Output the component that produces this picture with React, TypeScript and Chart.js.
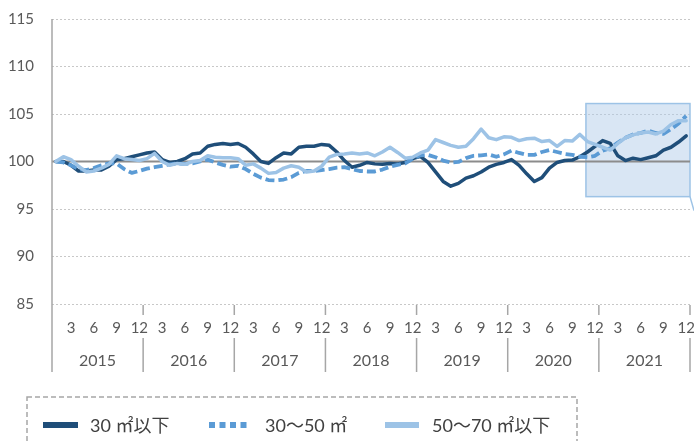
import React, { useEffect, useRef } from 'react';
import { Chart, registerables } from 'chart.js';

Chart.register(...registerables);

// ---- data ----
const years = [2015, 2016, 2017, 2018, 2019, 2020, 2021];
const months = [1, 2, 3, 4, 5, 6, 7, 8, 9, 10, 11, 12];
const categories = years.flatMap((yr) => months.map((m) => `${yr}-${m}`));

const series30Under = [
  100.0, 100.0, 99.6, 99.0, 99.0, 99.1, 99.1, 99.5, 100.2, 100.3, 100.5, 100.7,
  100.9, 101.0, 100.2, 99.9, 100.0, 100.3, 100.8, 100.9, 101.6, 101.8, 101.9, 101.8,
  101.9, 101.5, 100.8, 100.0, 99.8, 100.4, 100.9, 100.8, 101.5, 101.6, 101.6, 101.8,
  101.7, 101.0, 100.1, 99.4, 99.6, 99.9, 99.75, 99.7, 99.8, 99.75, 99.9, 100.3,
  100.55, 99.9, 98.9, 97.9, 97.4, 97.7, 98.25, 98.5, 98.9, 99.4, 99.7, 99.9,
  100.2, 99.6, 98.7, 97.9, 98.3, 99.3, 99.9, 100.1, 100.15, 100.5, 101.0, 101.6,
  102.2, 101.9, 100.6, 100.1, 100.35, 100.2, 100.4, 100.6, 101.2, 101.5, 102.05, 102.7,
];

const series30to50 = [
  100.0, 99.9, 99.6, 99.2, 99.1, 99.3, 99.6, 99.8, 99.8, 99.2, 98.8, 99.0,
  99.25, 99.4, 99.55, 99.7, 99.8, 99.75, 99.8, 100.0, 100.2, 99.9, 99.65, 99.45,
  99.55, 99.2, 98.7, 98.3, 98.05, 98.0, 98.1, 98.35, 98.8, 99.0, 99.0, 99.1,
  99.2, 99.35, 99.4, 99.2, 99.0, 98.95, 98.95, 99.15, 99.45, 99.65, 99.8, 100.3,
  100.65, 100.7, 100.45, 100.1, 99.9, 99.95, 100.35, 100.6, 100.65, 100.75, 100.5, 100.75,
  101.15, 100.9, 100.7, 100.7, 101.0, 101.2, 101.0, 100.8, 100.7, 100.5, 100.45, 100.6,
  101.15, 101.4, 102.0, 102.5, 102.85, 103.0, 103.25, 103.0, 102.9, 103.4, 104.0, 104.8,
];

const series50to70 = [
  100.0, 100.5, 100.2, 99.5, 98.9, 99.0, 99.3, 99.7, 100.6, 100.3, 100.2, 100.1,
  100.3, 100.85, 100.0, 99.6, 99.8, 99.7, 100.0, 100.1, 100.6, 100.45, 100.4, 100.4,
  100.3, 99.6, 99.75, 99.3, 98.75, 98.85, 99.3, 99.55, 99.4, 98.9, 99.0, 99.5,
  100.45, 100.75, 100.8, 100.9, 100.8, 100.9, 100.6, 101.0, 101.5, 100.95, 100.35, 100.45,
  100.9, 101.2, 102.3, 102.0, 101.7, 101.5, 101.6, 102.4, 103.4, 102.5, 102.3, 102.6,
  102.55, 102.2, 102.4, 102.45, 102.1, 102.2, 101.6, 102.2, 102.15, 102.85, 102.1, 101.8,
  101.5, 101.2, 101.9, 102.5, 102.8, 103.0, 103.1, 102.9, 103.2, 103.9, 104.3, 104.3,
];

const seriesLabels = ['30 ㎡以下', '30～50 ㎡', '50～70 ㎡以下'];
const yMin = 85;
const yMax = 115;
const yStep = 5;
const baseline = 100;
// highlighted region (category index range, value range)
const highlightFrom = 69.8;
const highlightTo = 83.5;
const highlightLow = 96.3;
const highlightHigh = 106.1;

// ---- styles ----
const COLORS = ['#1f4e79', '#5b9bd5', '#9dc3e6'];
const AXIS_TEXT = '#595959';
const FONT_FAMILY = "Lato, 'Noto Sans CJK JP', sans-serif";
const LEGEND_LAYOUT = [
  { sx: 43, sw: 35, tx: 90 },
  { sx: 209, sw: 40, tx: 265 },
  { sx: 385, sw: 34, tx: 432 },
];

const decorations = {
  id: 'decorations',
  beforeDatasetsDraw(chart: any) {
    const { ctx, chartArea, scales } = chart;
    const x = scales.x;
    const y = scales.y;
    const l = x.getPixelForValue(highlightFrom);
    const r = x.getPixelForValue(highlightTo);
    const t = y.getPixelForValue(highlightHigh);
    const b = y.getPixelForValue(highlightLow);
    ctx.save();
    ctx.fillStyle = 'rgba(176, 202, 232, 0.48)';
    ctx.fillRect(l, t, r - l, b - t);
    ctx.strokeStyle = '#9dc3e6';
    ctx.lineWidth = 1.5;
    ctx.strokeRect(l, t, r - l, b - t);
    ctx.beginPath();
    ctx.moveTo(r, b);
    ctx.lineTo(r + 4, b + 14);
    ctx.stroke();
    const yb = y.getPixelForValue(baseline);
    ctx.strokeStyle = '#8c8c8c';
    ctx.lineWidth = 2;
    ctx.beginPath();
    ctx.moveTo(chartArea.left, yb);
    ctx.lineTo(chartArea.right, yb);
    ctx.stroke();
    ctx.restore();
  },
  afterDraw(chart: any) {
    const { ctx, chartArea, scales } = chart;
    const x = scales.x;
    const bottom = chartArea.bottom;
    ctx.save();
    ctx.strokeStyle = '#a6a6a6';
    ctx.lineWidth = 1.5;
    ctx.beginPath();
    ctx.moveTo(chartArea.left, chartArea.top);
    ctx.lineTo(chartArea.left, bottom + 68);
    ctx.stroke();

    ctx.fillStyle = AXIS_TEXT;
    ctx.font = `16px ${FONT_FAMILY}`;
    ctx.textAlign = 'center';
    ctx.textBaseline = 'middle';
    years.forEach((yr, k) => {
      const start = x.getPixelForValue(k * 12 - 0.5);
      const end = x.getPixelForValue(k * 12 + 11.5);
      ctx.beginPath();
      ctx.moveTo(end, bottom + 1);
      ctx.lineTo(end, bottom + 11);
      ctx.moveTo(end, bottom + 34);
      ctx.lineTo(end, bottom + 68);
      ctx.stroke();
      ctx.fillText(String(yr), (start + end) / 2, bottom + 57);
    });

    // legend
    ctx.setLineDash([5, 3]);
    ctx.strokeStyle = '#a6a6a6';
    ctx.lineWidth = 1.5;
    ctx.strokeRect(27, 397, 550, 60);
    const ly = 425;
    chart.data.datasets.forEach((ds: any, i: number) => {
      const L = LEGEND_LAYOUT[i];
      ctx.strokeStyle = ds.borderColor;
      ctx.lineWidth = 6;
      ctx.setLineDash(i === 1 ? [6, 4.5] : []);
      ctx.lineCap = 'butt';
      ctx.beginPath();
      ctx.moveTo(L.sx, ly);
      ctx.lineTo(L.sx + L.sw, ly);
      ctx.stroke();
      ctx.setLineDash([]);
      ctx.fillStyle = '#404040';
      ctx.font = `18px ${FONT_FAMILY}`;
      ctx.textAlign = 'left';
      ctx.textBaseline = 'middle';
      ctx.fillText(ds.label, L.tx, ly + 1);
    });
    ctx.restore();
  },
};

export default function App() {
  const canvasRef = useRef<HTMLCanvasElement | null>(null);

  useEffect(() => {
    const canvas = canvasRef.current;
    if (!canvas) return;
    const seriesData = [series30Under, series30to50, series50to70];
    const chart = new Chart(canvas, {
      type: 'line',
      data: {
        labels: categories,
        datasets: seriesData.map((d, i) => ({
          label: seriesLabels[i],
          data: d,
          borderColor: COLORS[i],
          backgroundColor: COLORS[i],
          borderWidth: i === 1 ? 3.8 : 3.5,
          borderDash: i === 1 ? [9, 4] : [],
          borderJoinStyle: 'round',
          borderCapStyle: i === 1 ? 'butt' : 'round',
          pointRadius: 0,
          tension: 0,
          fill: false,
          order: 2 - i,
        })),
      },
      options: {
        responsive: false,
        animation: false,
        events: [],
        layout: { padding: { left: 0, right: 4, top: 19, bottom: 0 } },
        plugins: {
          legend: { display: false },
          tooltip: { enabled: false },
          title: { display: false },
        },
        scales: {
          x: {
            type: 'category',
            offset: true,
            grid: { display: false, drawTicks: false },
            border: { display: false },
            ticks: {
              autoSkip: false,
              maxRotation: 0,
              minRotation: 0,
              padding: 15,
              color: AXIS_TEXT,
              font: { family: FONT_FAMILY, size: 15 },
              callback: (_v: any, i: number) => {
                const m = months[i % 12];
                return m % 3 === 0 ? String(m) : '';
              },
            },
            afterFit: (s: any) => {
              s.height = 137;
              s.paddingLeft = 0;
              s.paddingRight = 0;
            },
          },
          y: {
            min: yMin,
            max: yMax,
            ticks: {
              stepSize: yStep,
              padding: 18,
              color: AXIS_TEXT,
              font: { family: FONT_FAMILY, size: 15 },
            },
            grid: { color: '#c8c8c8', lineWidth: 1, drawTicks: false },
            border: { display: false, dash: [2, 2] },
            afterFit: (s: any) => {
              s.width = 52;
              s.paddingTop = 0;
              s.paddingBottom = 0;
            },
          },
        },
      },
      plugins: [decorations],
    });
    return () => chart.destroy();
  }, []);

  return (
    <div style={{ position: 'absolute', left: 0, top: 0, width: 694, height: 441, background: '#fff' }}>
      <canvas ref={canvasRef} width={694} height={441} style={{ display: 'block' }} />
    </div>
  );
}
